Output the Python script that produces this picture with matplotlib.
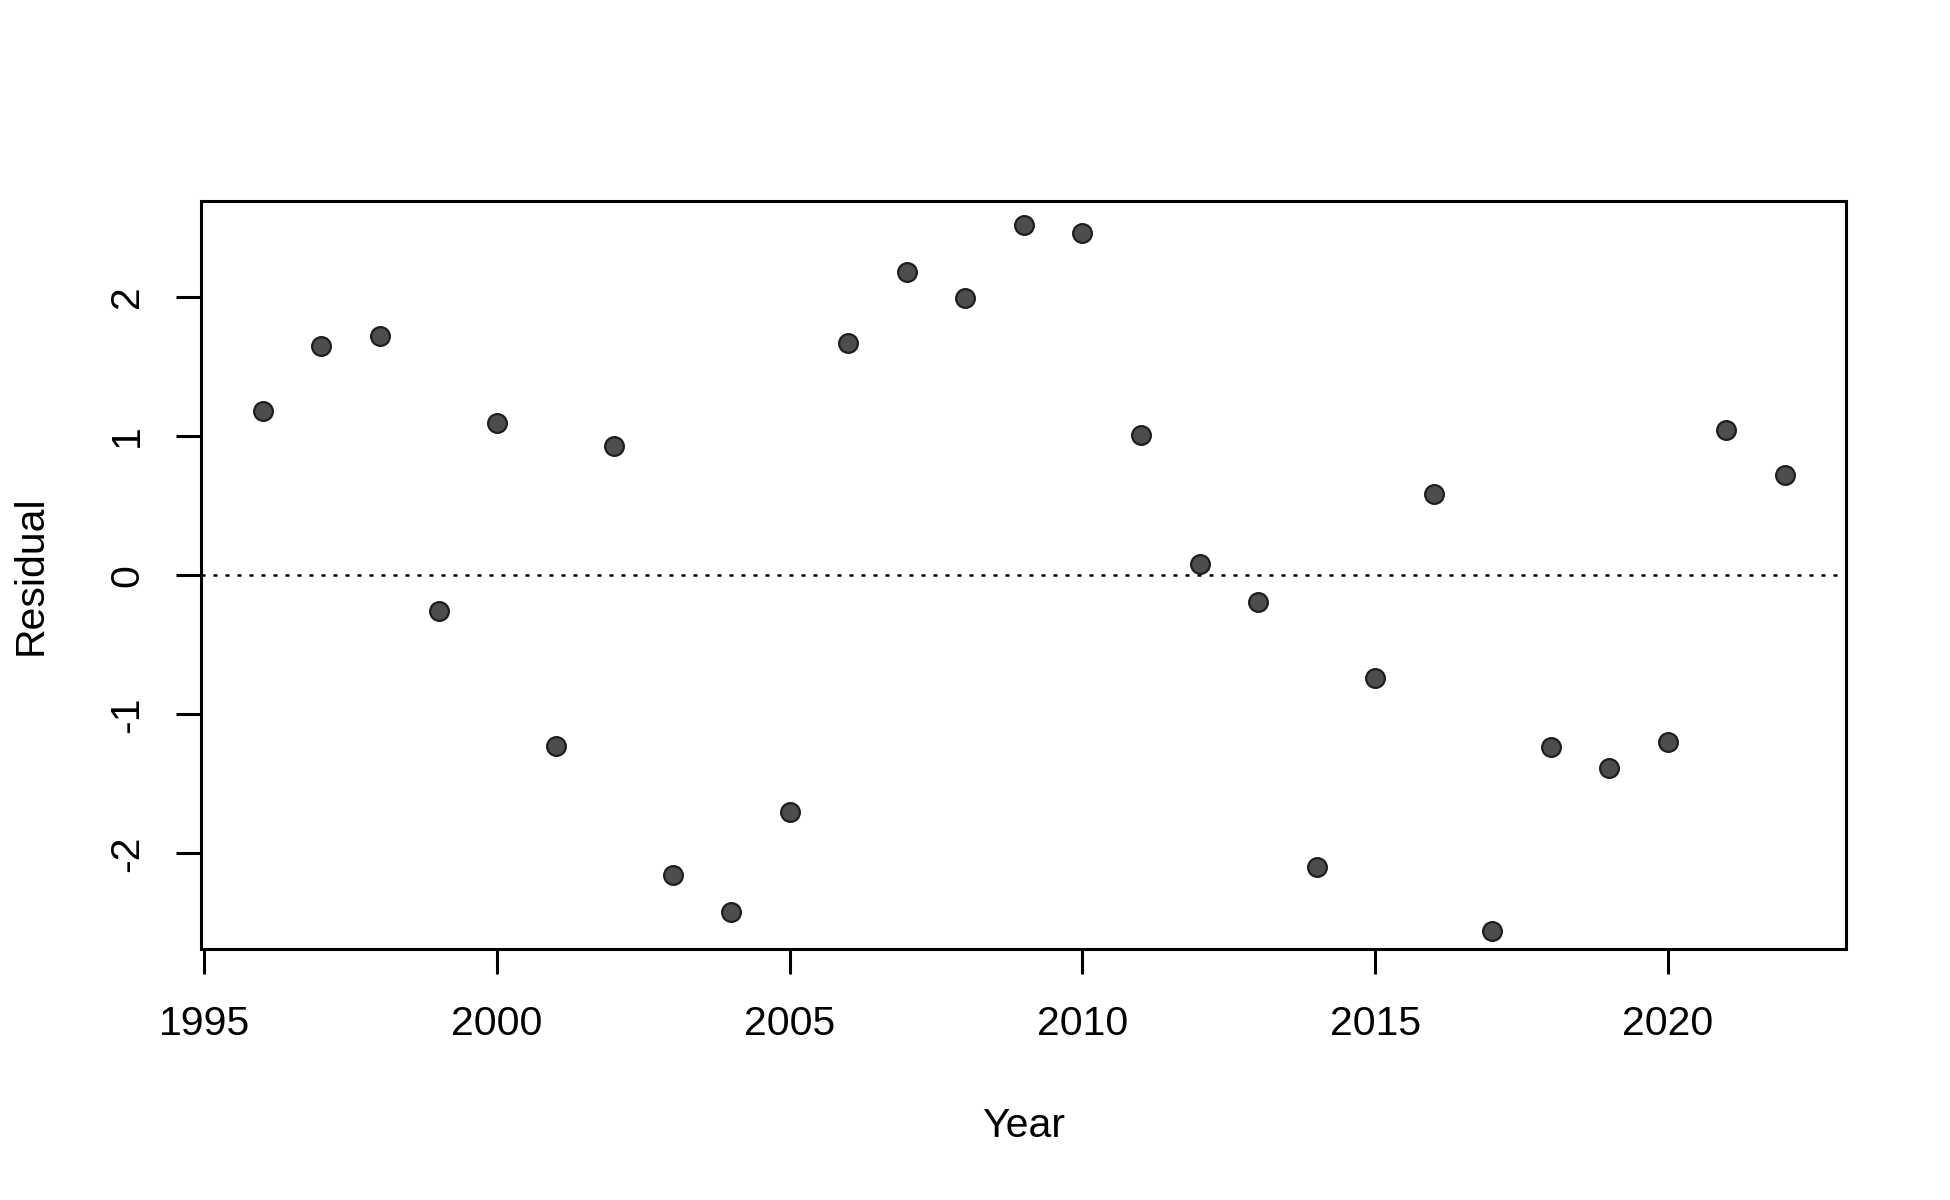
import matplotlib
matplotlib.use("Agg")
import matplotlib.pyplot as plt

plt.rcParams['font.family'] = ['Liberation Sans', 'DejaVu Sans']
plt.rcParams['axes.unicode_minus'] = False

years = [1996, 1997, 1998, 1999, 2000, 2001, 2002, 2003, 2004, 2005,
         2006, 2007, 2008, 2009, 2010, 2011, 2012, 2013, 2014, 2015,
         2016, 2017, 2018, 2019, 2020, 2021, 2022]
resid = [1.18, 1.65, 1.715, -0.255, 1.09, -1.23, 0.925, -2.155, -2.42, -1.70,
         1.665, 2.175, 1.99, 2.515, 2.455, 1.01, 0.08, -0.196, -2.097, -0.742,
         0.58, -2.555, -1.235, -1.385, -1.20, 1.045, 0.72]
xticks = [1995, 2000, 2005, 2010, 2015, 2020]
yticks = [-2, -1, 0, 1, 2]

fig = plt.figure(figsize=(19.5, 12), dpi=100)
ax = fig.add_axes([0.1033, 0.2092, 0.8436, 0.6229])

ax.axhline(0, color='black', lw=1.8, linestyle=(0, (1.6, 3.2)), zorder=1)
ax.plot(years, resid, linestyle='none', marker='o', markersize=13.5,
        markerfacecolor='#4d4d4d', markeredgecolor='#1e1e1e',
        markeredgewidth=1.6, zorder=3)

ax.set_xlim(1994.95, 2023.05)
ax.set_ylim(-2.686, 2.685)
ax.set_xticks(xticks)
ax.set_yticks(yticks)
ax.set_xticklabels([str(t) for t in xticks])
ax.set_yticklabels([str(t) for t in yticks], rotation=90, va='center')

for s in ax.spines.values():
    s.set_linewidth(2.2)
ax.tick_params(axis='both', length=18, width=2.2, labelsize=29.5, color='black')
ax.tick_params(axis='x', pad=22)
ax.tick_params(axis='y', pad=22)

fig.text(0.525, 1 - 1126 / 1200, 'Year', fontsize=29.5, ha='center', va='center')
fig.text(31 / 1950, 1 - 575 / 1200, 'Residual', fontsize=29.5, ha='center',
         va='center', rotation=90)

fig.savefig('out.png', dpi=100, facecolor='white')
